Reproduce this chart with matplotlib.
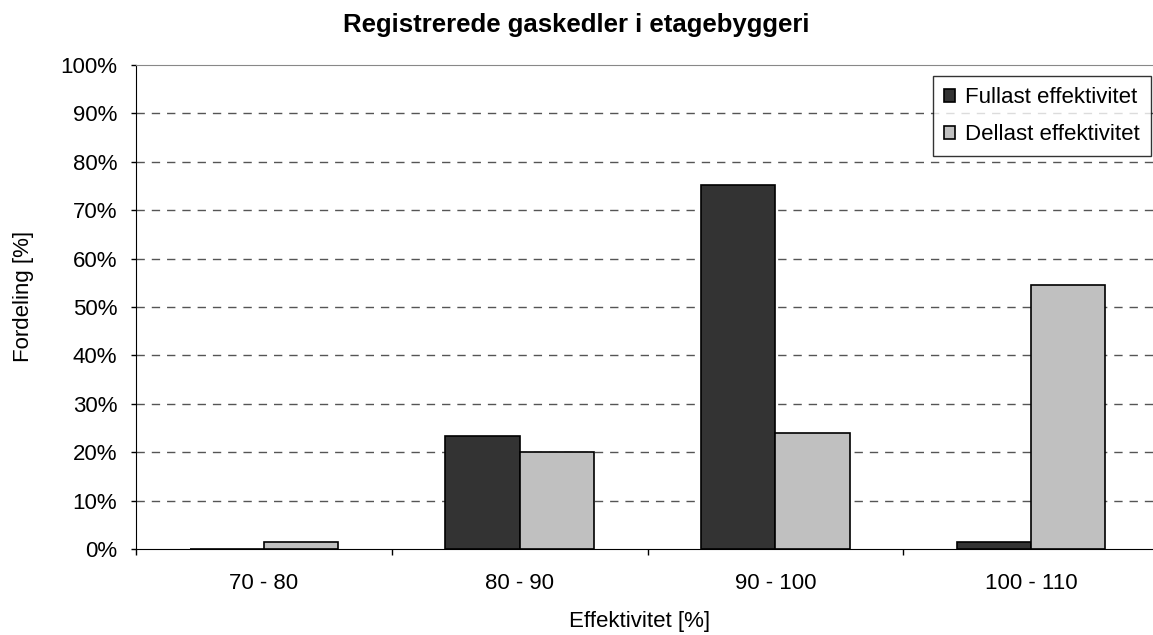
import matplotlib
matplotlib.use("Agg")
import matplotlib.pyplot as plt
from matplotlib.ticker import PercentFormatter
import numpy as np

plt.rcParams['font.family'] = ['Liberation Sans', 'DejaVu Sans']

categories = ["70 - 80", "80 - 90", "90 - 100", "100 - 110"]
fullast = [0.0, 23.4, 75.2, 1.45]
dellast = [1.45, 20.1, 23.9, 54.5]
series_names = ["Fullast effektivitet", "Dellast effektivitet"]
yticks = list(range(0, 101, 10))

W, H = 1153, 635
fig = plt.figure(figsize=(W / 100, H / 100), dpi=100)
x0, x1 = 136, 1159
y0, y1 = 65, 549
ax = fig.add_axes([x0 / W, 1 - y1 / H, (x1 - x0) / W, (y1 - y0) / H])

x = np.arange(len(categories))
bw = 0.29
ax.bar(x - bw / 2, fullast, bw, color="#333333", edgecolor="black", linewidth=1.2,
       label=series_names[0], zorder=3)
ax.bar(x + bw / 2, dellast, bw, color="#c0c0c0", edgecolor="black", linewidth=1.2,
       label=series_names[1], zorder=3)

ax.set_xlim(-0.5, len(categories) - 0.5)
ax.set_ylim(0, 100)
ax.set_yticks(yticks)
ax.yaxis.set_major_formatter(PercentFormatter(decimals=0))
ax.set_xticks(x)
ax.set_xticklabels(categories, fontsize=16)
ax.set_xticks(np.arange(len(categories) + 1) - 0.5, minor=True)
ax.tick_params(axis='x', which='major', length=0, pad=17.5)
ax.tick_params(axis='x', which='minor', length=4, width=1, direction='out')
ax.tick_params(axis='y', which='major', length=3.5, width=1, direction='out', labelsize=16, pad=10)

for v in yticks[1:-1]:
    ax.axhline(v, color="#555555", linestyle=(0, (6, 5)), linewidth=1, zorder=1)

ax.spines['top'].set_color('#888888')
ax.spines['right'].set_visible(False)
ax.spines['left'].set_color('black')
ax.spines['bottom'].set_color('black')

fig.text(640 / W, 1 - 622 / H, "Effektivitet [%]", fontsize=16, ha='center', va='center')
fig.text(24 / W, 1 - 296 / H, "Fordeling [%]", fontsize=16, rotation=90, ha='center', va='center')
fig.text(576 / W, 1 - 25 / H, "Registrerede gaskedler i etagebyggeri", fontsize=18.5,
         fontweight='bold', ha='center', va='center')

leg = ax.legend(loc='upper right', bbox_to_anchor=((1151 - x0) / (x1 - x0), (549 - 76) / (y1 - y0)),
                fontsize=16, frameon=True, fancybox=False, edgecolor='black',
                handlelength=0.5, handleheight=0.5, handletextpad=0.45, borderpad=0.5,
                labelspacing=0.72, borderaxespad=0)
leg.get_frame().set_linewidth(1)

fig.savefig("out.png", dpi=100)
